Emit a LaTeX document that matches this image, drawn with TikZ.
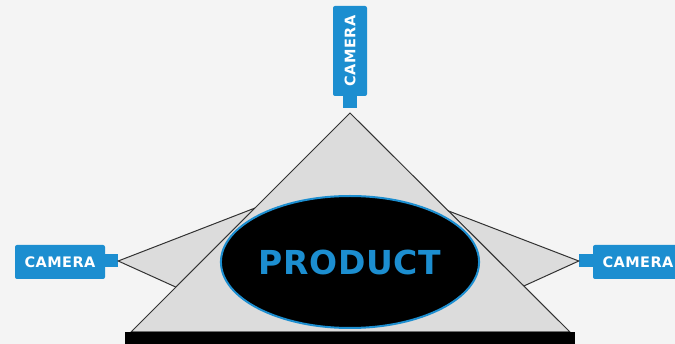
\documentclass[tikz,border=0pt]{standalone}
\usepackage{fontspec}
\usepackage{tikz}
\usetikzlibrary{shapes.geometric, positioning, calc}
\newfontfamily\labelfont{DejaVu Sans}[LetterSpace=3]
\newfontfamily\productfont{DejaVu Sans}[LetterSpace=2]
\definecolor{camblue}{RGB}{28,142,208}
\definecolor{bggray}{RGB}{244,244,244}
\definecolor{viewgray}{RGB}{220,220,220}
\definecolor{edgegray}{RGB}{50,50,50}

\begin{document}
\begin{tikzpicture}[
        x=1pt, y=-1pt,
        camera/.style={rectangle, fill=camblue, rounded corners=2pt, text=white, font=\labelfont\bfseries\fontsize{14.5}{14.5}\selectfont, minimum width=90pt, minimum height=34pt, inner sep=0pt},
        lens/.style={rectangle, fill=camblue, minimum width=14pt, minimum height=13pt, inner sep=0pt},
        view/.style={draw=edgegray, fill=viewgray, line width=1pt, line join=miter},
        product/.style={ellipse, draw=camblue, line width=2pt, fill=black, text=camblue, minimum width=252pt, minimum height=132pt, inner sep=0pt, font=\productfont\bfseries\fontsize{33}{33}\selectfont},
    ]

    % Background
    \fill [bggray] (0,0) rectangle (675,344);
    \useasboundingbox (0,0) rectangle (675,344);

    % Nodes
    \node [camera, rotate=90] (camtop) at (350,51) {CAMERA};
    \node [lens] (lenstop) at (350,102) {};
    \node [camera] (camleft) at (60,262) {CAMERA};
    \node [lens] (lensleft) at (111,261) {};
    \node [camera] (camright) at (638,262) {CAMERA};
    \node [lens] (lensright) at (586,261) {};

    \coordinate (apex) at (350,113);
    \coordinate (baseL) at (131,332);
    \coordinate (baseR) at (570,332);

    % Side views
    \path [view] (lensleft.east) -- ($(apex)!0.434!(baseL)$) -- ($(apex)!0.795!(baseL)$) -- cycle;
    \path [view] (lensright.west) -- ($(apex)!0.447!(baseR)$) -- ($(apex)!0.79!(baseR)$) -- cycle;

    % Top view
    \path [view] (apex) -- (baseR) -- (baseL) -- cycle;

    \node [product] (product) at (350,262) {PRODUCT};
    \fill [black] (125,332) rectangle (575,346);

\end{tikzpicture}
\end{document}
